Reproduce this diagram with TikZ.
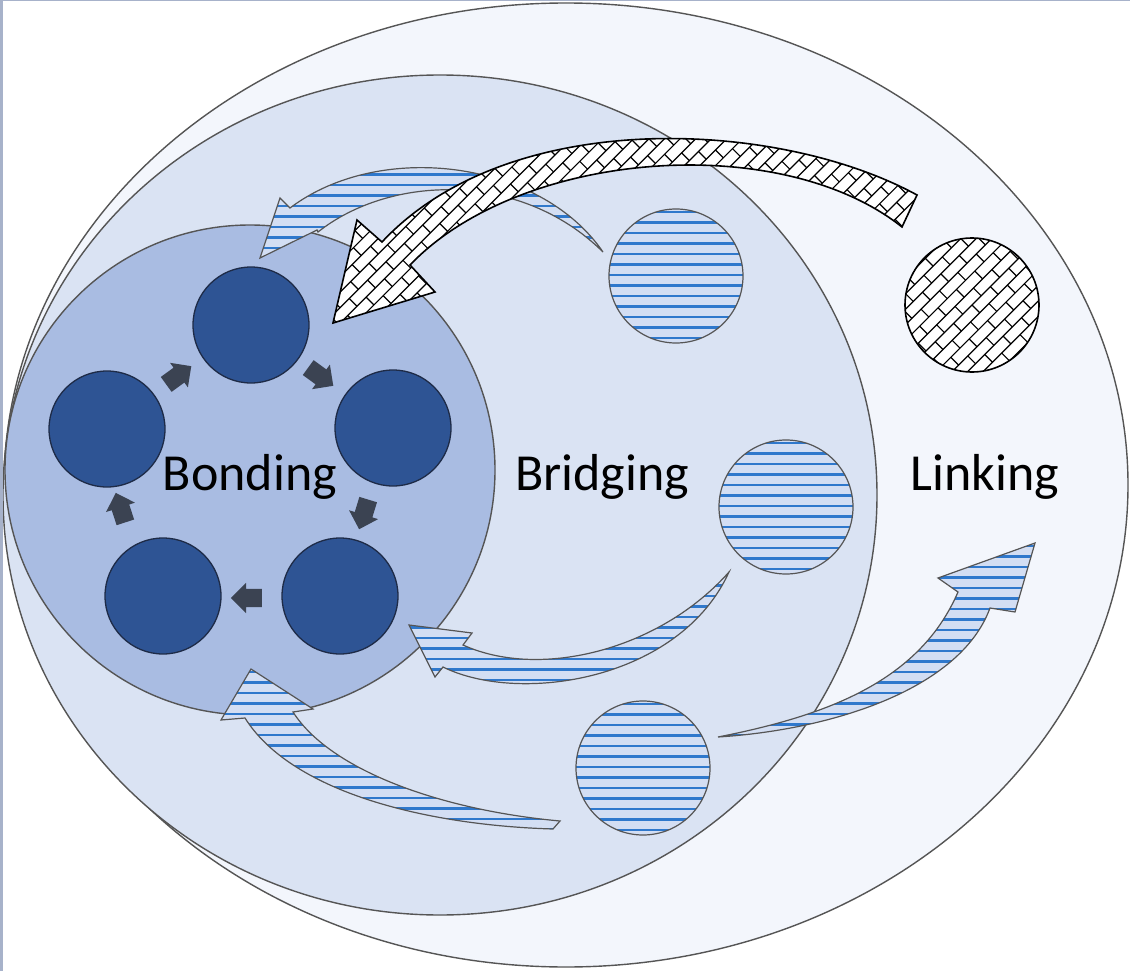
\documentclass[tikz,border=0pt]{standalone}
\usepackage{fontspec}
\setmainfont{Carlito}
\usetikzlibrary{shapes.arrows}

\definecolor{linkfill}{HTML}{F3F6FC}
\definecolor{bridgefill}{HTML}{DAE3F3}
\definecolor{bondfill}{HTML}{A9BCE2}
\definecolor{darkblue}{HTML}{2E5494}
\definecolor{darkline}{HTML}{1E2B47}
\definecolor{arrowdark}{HTML}{3B4352}
\definecolor{stripebg}{HTML}{D3DEF3}
\definecolor{stripeblue}{HTML}{2F78CC}
\definecolor{edgegray}{HTML}{555555}
\definecolor{framecol}{HTML}{A7B2CA}

\newcommand{\mybricks}[2]{%
  \foreach \j in {-#1,...,#1}{%
    \draw[brickline] ({-(#2+1)*26},{\j*11}) -- ({(#2+1)*26},{\j*11});
    \pgfmathsetmacro{\boff}{mod(\j+100,2)*13}%
    \foreach \k in {-#2,...,#2}{%
      \draw[brickline] ({\k*26+\boff},{\j*11}) -- ({\k*26+\boff},{\j*11+11});
    }%
  }}

\tikzset{
  ring/.style={draw=edgegray, line width=1.4pt},
  brickline/.style={draw=black, line width=1.2pt},
  darkcirc/.style={circle, inner sep=0pt, minimum size=116pt, fill=darkblue, draw=darkline, line width=1.3pt},
  stripes/.style={path picture={\foreach \i in {0,...,40}{\draw[stripeblue, line width=2.6pt] ([yshift=-\i*10.5pt-3pt]path picture bounding box.north west) -- ([yshift=-\i*10.5pt-3pt]path picture bounding box.north east);}}},
  stripecirc/.style={circle, inner sep=0pt, minimum size=134pt, fill=stripebg, draw=edgegray, line width=1.2pt, stripes},
  brickfill/.style n args={4}{path picture={\begin{scope}[shift={(#1,#2)}, rotate=45]\mybricks{#3}{#4}\end{scope}}},
  brickcircle/.style={fill=white, draw=black, line width=1.6pt, brickfill={972}{305}{8}{4}},
  stripearrow/.style={fill=stripebg, draw=edgegray, line width=1.2pt, line join=miter, stripes},
  brickarrow/.style={fill=white, draw=black, line width=1.6pt, line join=miter, brickfill={625}{225}{31}{14}},
  smallarr/.style={single arrow, fill=arrowdark, draw=none, inner xsep=6pt, inner ysep=9pt, minimum width=0pt, minimum height=31pt, single arrow head extend=6pt},
  lbl/.style={font=\fontsize{52}{60}\selectfont, text=black, inner sep=0pt, anchor=base}
}

\begin{document}
\begin{tikzpicture}[x=1pt,y=-1pt]
\useasboundingbox (0,0) rectangle (1130,971);
\fill[white] (0,0) rectangle (1130,971);

% nested regions
\draw[ring, fill=linkfill] (566,485) ellipse [x radius=562, y radius=482];
\draw[ring, fill=bridgefill] (440,495) ellipse [x radius=437, y radius=420];
\draw[ring, fill=bondfill] (250,470) circle [radius=245];

% frame strips
\fill[framecol] (0,0) rectangle (3,971);
\fill[framecol] (0,0) rectangle (1130,1.5);

% bonding circles
\node[darkcirc] (c1) at (251,325) {};
\node[darkcirc] (c2) at (393,428) {};
\node[darkcirc] (c3) at (340,596) {};
\node[darkcirc] (c4) at (163,596) {};
\node[darkcirc] (c5) at (107,429) {};

% small arrows
\node[smallarr, rotate=36] (s1) at (175,378) {};
\node[smallarr, rotate=-36] (s2) at (317,374) {};
\node[smallarr, rotate=-107] (s3) at (365,510) {};
\node[smallarr, rotate=180] (s4) at (251,598) {};
\node[smallarr, rotate=108] (s5) at (122,512) {};

% bridging and linking circles
\node[stripecirc] (b1) at (676,276) {};
\node[stripecirc] (b2) at (786,507) {};
\node[stripecirc] (b3) at (643,768) {};
\path[brickcircle] (972,305) circle [radius=67];
\coordinate (l1) at (972,305);

% top striped arrow
\path[stripearrow] (603,252) .. controls (540,160) and (380,140) .. (290,208)
  -- (280,198) -- (260,258) -- (317,230) -- (318,232)
  .. controls (390,175) and (520,170) .. (603,252) -- cycle;

% hatched arrow
\path[brickarrow] (917,195) .. controls (780,120) and (510,105) .. (382,242)
  -- (357,220) -- (333,323) -- (435,292) -- (410,265)
  .. controls (520,150) and (780,130) .. (902,227) -- cycle;

% middle striped arrow
\path[stripearrow] (729,572) .. controls (660,650) and (540,680) .. (463,645)
  -- (472,633) -- (409,625) -- (435,677) -- (443,667)
  .. controls (520,705) and (680,680) .. (729,572) -- cycle;

% bottom-left striped arrow
\path[stripearrow] (553,829) .. controls (420,825) and (290,790) .. (245,718)
  -- (221,720) -- (251,669) -- (313,709) -- (293,712)
  .. controls (330,770) and (440,810) .. (560,821) -- cycle;

% right striped arrow
\path[stripearrow] (718,737) .. controls (830,715) and (920,680) .. (958,592)
  -- (938,578) -- (1035,543) -- (1015,612) -- (990,608)
  .. controls (960,690) and (830,730) .. (718,737) -- cycle;

% labels
\node[lbl] (tbond) at (250,490) {Bonding};
\node[lbl] (tbridge) at (602,490) {Bridging};
\node[lbl] (tlink) at (985,490) {Linking};
\end{tikzpicture}
\end{document}
